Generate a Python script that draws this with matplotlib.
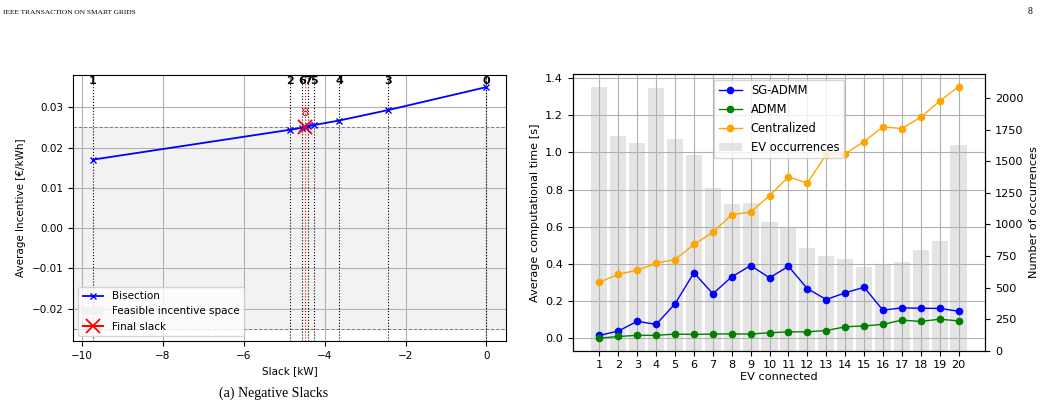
import numpy as np
import matplotlib
matplotlib.use("Agg")
import matplotlib.pyplot as plt

plt.rcParams['font.size'] = 7.5

# --- left panel data (bisection iterations) ---
iter_labels = ['0', '1', '2', '3', '4', '5', '6', '7', '8']
slack = [0.0, -9.73, -4.865, -2.43, -3.645, -4.255, -4.56, -4.405, -4.485]
incentive = [0.0350, 0.0170, 0.0244, 0.0293, 0.0267, 0.0256, 0.0249, 0.0253, 0.0251]
feasible_lo, feasible_hi = -0.025, 0.025

# --- right panel data ---
ev_connected = list(range(1, 21))
t_sgadmm = [0.015, 0.038, 0.091, 0.074, 0.185, 0.352, 0.239, 0.330, 0.391, 0.325,
            0.387, 0.267, 0.208, 0.244, 0.274, 0.151, 0.163, 0.161, 0.160, 0.145]
t_admm = [0.000, 0.009, 0.015, 0.015, 0.022, 0.020, 0.022, 0.023, 0.022, 0.029,
          0.034, 0.034, 0.041, 0.061, 0.066, 0.074, 0.097, 0.090, 0.102, 0.093]
t_central = [0.301, 0.344, 0.366, 0.403, 0.423, 0.505, 0.570, 0.665, 0.679, 0.767,
             0.869, 0.835, 0.988, 0.993, 1.059, 1.138, 1.129, 1.190, 1.276, 1.355]
occurrences = [2085, 1697, 1642, 2077, 1673, 1547, 1289, 1160, 1167, 1017,
               975, 812, 749, 725, 662, 680, 703, 794, 867, 1626]

fig = plt.figure(figsize=(10.41, 4.08), dpi=100)

# page header / caption
fig.text(3/1041, 1 - 12/408, 'IEEE TRANSACTION ON SMART GRIDS', family='Liberation Serif',
         fontsize=5.3, va='center', ha='left')
fig.text(1032/1041, 1 - 12/408, '8', family='Liberation Serif', fontsize=7, va='center', ha='right')
fig.text(274/1041, 1 - 393/408, '(a) Negative Slacks', family='Liberation Serif',
         fontsize=10, va='center', ha='center')

# ---------------- left: bisection ----------------
ax = fig.add_axes([0.0704, 0.1642, 0.4158, 0.652])
ax.grid(True, color='#b0b0b0', lw=0.8)
ax.set_axisbelow(True)
span = ax.axhspan(feasible_lo, feasible_hi, color='#f2f2f2', zorder=0.5, label='Feasible incentive space')
ax.axhline(feasible_hi, color='gray', ls='--', lw=0.7)
ax.axhline(feasible_lo, color='gray', ls='--', lw=0.7)

order = np.argsort(slack)
xs = np.array(slack)[order]
ys = np.array(incentive)[order]
bis, = ax.plot(xs, ys, color='blue', marker='x', ms=5, lw=1.3, label='Bisection', zorder=3)

for lab, x in zip(iter_labels[:-1], slack[:-1]):
    ax.axvline(x, color='k', ls=':', lw=0.8, zorder=2)
    ax.text(x, 0.0366, lab, ha='center', va='center', fontweight='bold', fontsize=8)
ax.axvline(slack[-1], color='red', ls=':', lw=0.8, zorder=2)
ax.text(slack[-1], 0.0286, iter_labels[-1], ha='center', va='center', color='red', fontsize=8)
fin, = ax.plot([slack[-1]], [incentive[-1]], color='red', marker='x', ms=10, mew=1.3,
               label='Final slack', zorder=4)

ax.set_ylim(-0.028, 0.038)
ax.set_xlabel('Slack [kW]')
ax.set_ylabel('Average Incentive [€/kWh]')
ax.legend([bis, span, fin], ['Bisection', 'Feasible incentive space', 'Final slack'],
          loc='lower left')

# ---------------- right: computation time ----------------
fs = 8.1
ax1 = fig.add_axes([0.5501, 0.1404, 0.3964, 0.6782])
ax2 = ax1.twinx()
ax2.bar(ev_connected, occurrences, width=0.85, color='lightgray', alpha=0.6,
        label='EV occurrences')
ax2.set_ylabel('Number of occurrences', fontsize=fs)
ax2.tick_params(labelsize=fs)
ax1.set_zorder(ax2.get_zorder() + 1)
ax1.patch.set_visible(False)

ax1.plot(ev_connected, t_sgadmm, color='blue', marker='o', ms=4.5, lw=1, label='SG-ADMM')
ax1.plot(ev_connected, t_admm, color='green', marker='o', ms=4.5, lw=1, label='ADMM')
ax1.plot(ev_connected, t_central, color='orange', marker='o', ms=4.5, lw=1, label='Centralized')
ax1.set_xticks(ev_connected)
ax1.tick_params(labelsize=fs)
ax1.grid(True, color='#b0b0b0', lw=0.8)
ax1.set_xlabel('EV connected', labelpad=1, fontsize=fs)
ax1.set_ylabel('Average computational time [s]', fontsize=fs)

h1, l1 = ax1.get_legend_handles_labels()
h2, l2 = ax2.get_legend_handles_labels()
ax1.legend(h1 + h2, l1 + l2, loc='upper center', fontsize=8.3)

fig.savefig('out.png', dpi=100)
